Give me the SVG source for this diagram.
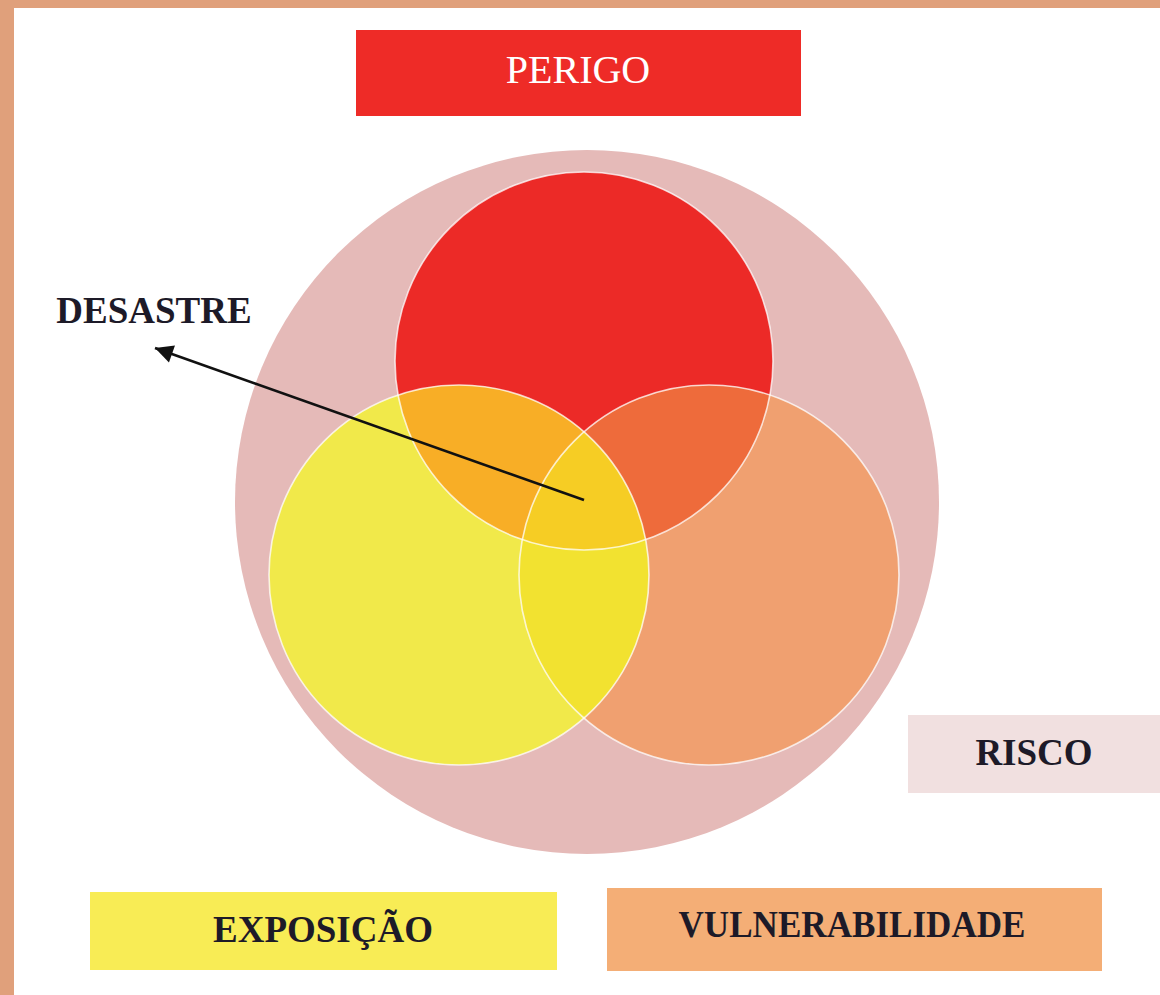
<svg xmlns="http://www.w3.org/2000/svg" width="1160" height="995" viewBox="0 0 1160 995">
<style>
.lbl{font-family:"Liberation Serif","Times New Roman",serif;font-weight:bold;fill:#1d1a28;text-anchor:middle}
.ring{stroke:#ffffff;stroke-width:1.6;stroke-opacity:0.75}
</style>
<defs>
<clipPath id="cRed"><circle cx="584" cy="361" r="189"/></clipPath>
<clipPath id="cYel"><circle cx="459" cy="575" r="190"/></clipPath>
<clipPath id="cOra"><circle cx="709" cy="575" r="190"/></clipPath>
<marker id="ah" viewBox="0 0 10 10" refX="10" refY="5" markerWidth="24" markerHeight="18" markerUnits="userSpaceOnUse" orient="auto" style="overflow:visible">
<path d="M0,0 L10,5 L0,10 z" fill="#111"/>
</marker>
</defs>
<rect x="0" y="0" width="1160" height="995" fill="#E0A07B"/>
<rect x="14" y="8" width="1146" height="987" fill="#ffffff"/>

<g id="perigo">
<rect x="356" y="30" width="445" height="86" fill="#EE2B27"/>
<text x="578" y="83" font-family="Liberation Serif, Times New Roman, serif" font-size="40" fill="#ffffff" text-anchor="middle">PERIGO</text>
</g>

<g id="risco-circle">
<circle cx="587" cy="502" r="352" fill="#E5BAB8"/>
</g>

<g id="venn">
<circle cx="584" cy="361" r="189" fill="#EC2A27"/>
<circle cx="459" cy="575" r="190" fill="#F1E94A"/>
<circle cx="709" cy="575" r="190" fill="#F0A070"/>
<g clip-path="url(#cRed)">
<circle cx="459" cy="575" r="190" fill="#F8AE26"/>
<circle cx="709" cy="575" r="190" fill="#EE6B3B"/>
</g>
<g clip-path="url(#cYel)">
<circle cx="709" cy="575" r="190" fill="#F2E230"/>
<g clip-path="url(#cRed)"><circle cx="709" cy="575" r="190" fill="#F6CD24"/></g>
</g>
<g fill="none" class="ring">
<circle cx="584" cy="361" r="189"/>
<circle cx="459" cy="575" r="190"/>
<circle cx="709" cy="575" r="190"/>
</g>
</g>

<g id="connectors">
<line x1="584" y1="500" x2="155" y2="348" stroke="#111" stroke-width="2.6" marker-end="url(#ah)"/>
</g>

<g id="desastre">
<text class="lbl" x="154" y="323" font-size="37">DESASTRE</text>
</g>

<g id="risco">
<rect x="908" y="715" width="252" height="78" fill="#F1E0E0"/>
<text class="lbl" x="1034" y="765" font-size="37">RISCO</text>
</g>

<g id="exposicao">
<rect x="90" y="892" width="467" height="78" fill="#F8EC55"/>
<text class="lbl" x="323" y="942" font-size="37">EXPOSIÇÃO</text>
</g>

<g id="vulnerabilidade">
<rect x="607" y="888" width="495" height="83" fill="#F4AE76"/>
<text class="lbl" x="852" y="937" font-size="37" textLength="347" lengthAdjust="spacingAndGlyphs">VULNERABILIDADE</text>
</g>
</svg>
